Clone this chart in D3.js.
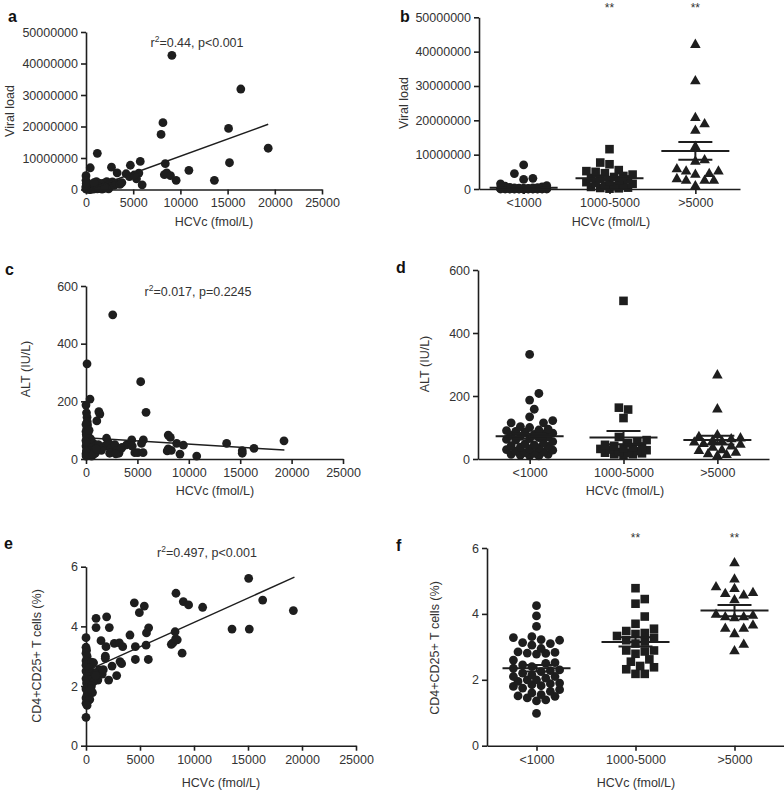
<!DOCTYPE html>
<html><head><meta charset="utf-8">
<script src="https://cdn.jsdelivr.net/npm/d3@7"></script>
<style>body{margin:0;background:#fff} svg{font-family:"Liberation Sans",Arial,sans-serif;display:block}</style>
</head><body><svg width="784" height="790"></svg>
<script>
// ---------------- DATA ----------------
const xTicksHCV = [0, 5000, 10000, 15000, 20000, 25000];
const groups = ["<1000", "1000-5000", ">5000"];
const viralTicks = [0, 10000000, 20000000, 30000000, 40000000, 50000000];
const altTicks = [0, 200, 400, 600];
const tregTicks = [0, 2, 4, 6];

// Panel a: [HCVc, viral load]
const aPoints = [
  [9100,42.6e6],[16400,31.9e6],[8150,21.2e6],[7950,17.5e6],[15100,19.4e6],[19300,13.1e6],[15200,8.5e6],
  [13600,2.9e6],[10900,6.1e6],[9550,2.9e6],[8400,8.2e6],[8300,4.7e6],[8550,5.3e6],[8950,4.4e6],
  [5750,8.9e6],[5950,1.5e6],[5600,5.2e6],[5350,3.4e6],[4700,7.7e6],[4250,5.0e6],[4600,4.1e6],[5100,4.6e6],
  [3300,5.3e6],[2700,7.1e6],[3450,1.8e6],[1200,11.5e6],[450,6.9e6],[0,4.4e6],[0,2.9e6],[50,1.3e6],
  [100,0.3e6],[200,0.1e6],[300,0.5e6],[400,0.2e6],[500,0.0e6],[600,0.8e6],[700,0.3e6],[800,0.1e6],
  [900,1.0e6],[1000,0.5e6],[1100,2.5e6],[1200,0.2e6],[1300,1.5e6],[1400,0.6e6],[1500,0.3e6],[1600,1.2e6],
  [1700,0.1e6],[1800,0.8e6],[1900,2.0e6],[2000,0.4e6],[2100,1.5e6],[2200,2.5e6],[2300,0.9e6],[2400,0.2e6],
  [2500,1.7e6],[2600,1.1e6],[2800,2.4e6],[3000,1.3e6],[3200,2.0e6],[3600,1.6e6],[3800,2.2e6],[150,0.9e6],
  [250,1.8e6],[350,0.0e6],[650,1.4e6],[750,0.5e6],[50,0.1e6],[0,0.2e6],[0,0.6e6],[0,1.0e6],[30,2.0e6],
  [1500,1.9e6],[1700,0.7e6],[1250,1.0e6],[850,2.2e6],[1950,0.8e6]
];
const aFit = { x: [280, 19300], y: [0, 20.7e6] };
const aStat = ["r", "2", "=0.44, p<0.001"];

// Panel b: viral load by HCVc group
const bLow = [7.0e6,4.5e6,3.1e6,2.8e6,1.5e6,1.0e6,0.8e6,0.6e6,0.5e6,0.4e6,0.35e6,0.3e6,0.25e6,0.2e6,0.2e6,0.15e6,
  0.1e6,0.1e6,0.08e6,0.05e6,0.05e6,0.03e6,0.02e6,0.02e6,0.01e6,0.01e6,0,0,0,0,0,0,0,0,0,0,0,0,0,0];
const bMid = [11.6e6,7.7e6,7.2e6,5.5e6,5.2e6,5.0e6,4.6e6,4.2e6,3.8e6,3.5e6,3.2e6,3.0e6,2.8e6,2.5e6,2.2e6,2.0e6,
  1.8e6,1.5e6,1.2e6,1.0e6,0.8e6,0.6e6,0.4e6,0.3e6,0.2e6,0.1e6];
const bHigh = [42.2e6,31.6e6,20.9e6,19.1e6,17.2e6,12.5e6,8.6e6,8.2e6,6.0e6,5.3e6,5.3e6,4.6e6,4.4e6,3.1e6,2.6e6,2.6e6,2.6e6,1.0e6];
const bMean = [0.4e6, 3.1e6, 11.1e6];
const bSem = [0.2e6, 0.5e6, 2.6e6];
const bSig = ["", "**", "**"];

// Panel c: [HCVc, ALT]
const cPoints = [
  [0,187],[50,160],[100,145],[120,130],[150,118],[80,105],[0,95],[200,90],[60,80],[150,72],[0,65],[250,60],
  [100,55],[300,50],[0,45],[180,40],[400,35],[50,30],[250,28],[120,22],[0,18],[350,15],[200,12],[500,25],
  [600,40],[700,55],[800,30],[900,20],[450,70],[550,10],[390,208],[100,330],[1250,164],[1350,156],[1050,132],
  [2600,500],[2000,72],[1800,45],[2200,55],[2400,35],[2600,25],[2800,50],[3000,30],[3200,20],[3500,40],
  [1500,30],[1200,50],[2300,20],[3950,49],[4450,66],[5580,66],[5400,54],[4750,22],[5050,22],[5550,22],
  [5320,268],[5840,162],[8000,83],[8200,75],[8820,54],[9470,48],[8000,35],[8300,30],[9140,17],[10770,10],
  [13680,54],[15200,29],[15200,20],[16340,37],[19260,63],[4500,45],[3400,35],[2900,18],[7900,28],
  [0,120],[30,85],[20,60],[40,25],[10,10],[300,100],[700,15],[1000,35]
];
const cFit = { x: [0, 19300], y: [74, 31] };
const cStat = ["r", "2", "=0.017, p=0.2245"];

// Panel d: ALT by HCVc group
const dLow = [332,208,187,158,134,122,115,115,103,100,95,92,90,88,85,82,80,78,75,72,70,68,65,62,60,55,50,48,45,42,
  40,38,35,32,30,28,25,22,20,18,15,15,12,10,10];
const dMid = [502,163,157,130,70,60,55,50,45,42,40,38,35,32,30,28,25,22,20,18,15,20,15,12];
const dHigh = [268,160,78,72,68,65,60,58,55,50,48,42,38,30,28,22,18,15,12];
const dMean = [72, 68, 60];
const dSem = [8, 21, 14];

// Panel e: [HCVc, CD4+CD25+ %]
const ePoints = [
  [15060,5.61],[8330,5.11],[16360,4.88],[19200,4.53],[9010,4.83],[9500,4.72],[10800,4.64],[4475,4.79],[5400,4.68],
  [4940,4.46],[13520,3.91],[15120,3.91],[930,4.27],[1910,4.32],[930,3.96],[2160,3.96],[4070,3.71],[5800,3.95],
  [5600,3.78],[1390,3.52],[2620,3.43],[3090,3.45],[3400,3.32],[1790,3.0],[1790,2.93],[1850,3.32],[2410,2.67],
  [3150,2.82],[3300,2.75],[2100,2.2],[2840,2.35],[4570,3.32],[4570,2.89],[5560,3.37],[5770,2.89],[7900,3.40],
  [8050,3.45],[8300,3.58],[8450,3.55],[8250,3.82],[8900,3.10],
  [0,3.62],[0,3.3],[50,3.2],[0,3.1],[100,3.0],[0,2.85],[150,2.8],[0,2.7],[500,2.8],[700,2.78],[0,2.5],[100,2.45],
  [200,2.35],[0,2.25],[300,2.2],[50,2.1],[400,2.05],[150,1.95],[0,1.9],[250,1.85],[600,1.78],[100,1.7],[0,1.6],
  [350,1.55],[200,1.5],[0,1.42],[100,1.35],[0,0.95],[1230,2.54],[770,2.45],[1000,2.3],[1500,2.4],[1100,2.2],
  [1600,2.55],[700,2.15],[500,2.0],[900,2.35],[300,2.6],[450,1.9]
];
const eFit = { x: [0, 19300], y: [2.5, 5.65] };
const eStat = ["r", "2", "=0.497, p<0.001"];

// Panel f: CD4+CD25+ % by HCVc group
const fLow = [4.25,3.94,3.62,3.31,3.28,3.22,3.2,3.13,3.1,3.05,2.95,2.85,2.83,2.81,2.8,2.78,2.6,2.52,2.5,2.45,2.4,
  2.35,2.3,2.28,2.25,2.2,2.15,2.1,2.1,2.05,2.0,2.0,1.95,1.9,1.88,1.85,1.82,1.8,1.75,1.7,1.65,1.6,1.55,1.51,
  1.5,1.45,1.39,1.36,0.98];
const fMid = [4.78,4.45,4.31,3.92,3.70,3.55,3.48,3.42,3.39,3.33,3.28,3.2,3.16,3.1,2.89,2.89,2.86,2.79,2.62,2.55,
  2.42,2.38,2.32,2.18,2.18];
const fHigh = [5.56,5.07,4.83,4.78,4.66,4.63,4.58,4.44,4.0,3.97,3.92,3.92,3.89,3.67,3.57,3.57,3.41,3.09,2.89];
const fMean = [2.35, 3.15, 4.10];
const fSem = [0.1, 0.14, 0.17];
const fSig = ["", "**", "**"];

// ---------------- DRAWING ----------------
const svg = d3.select("svg");
const INK = "#1e1e1e";
const TXT = "#333";
const FS = "12.5px";
const R = 4.4;

function styleAxis(g) {
  g.selectAll("path,line").attr("stroke", INK).attr("stroke-width", 1.6);
  g.selectAll("text").attr("fill", TXT).style("font-size", FS);
}

function yAxis(y, x0, ticks, fmt) {
  const g = svg.append("g").attr("transform", `translate(${x0},0)`)
    .call(d3.axisLeft(y).tickValues(ticks).tickFormat(fmt).tickSize(5).tickPadding(3).tickSizeOuter(0));
  styleAxis(g);
}
function xAxis(x, y0, ticks, fmt) {
  const ax = d3.axisBottom(x).tickSize(5).tickPadding(4).tickSizeOuter(0);
  if (ticks) ax.tickValues(ticks);
  if (fmt) ax.tickFormat(fmt);
  const g = svg.append("g").attr("transform", `translate(0,${y0})`).call(ax);
  styleAxis(g);
}
function letter(t, x, y) {
  svg.append("text").attr("x", x).attr("y", y).text(t)
    .style("font-size", "16px").style("font-weight", "bold").attr("fill", "#111");
}
function yTitle(t, x, y) {
  svg.append("text").attr("transform", `translate(${x},${y}) rotate(-90)`)
    .attr("text-anchor", "middle").attr("dominant-baseline", "central")
    .style("font-size", FS).attr("fill", TXT).text(t);
}
function xTitle(t, x, y) {
  svg.append("text").attr("x", x).attr("y", y).attr("text-anchor", "middle")
    .attr("dominant-baseline", "central").style("font-size", FS).attr("fill", TXT).text(t);
}
function stat(parts, x, y) {
  const t = svg.append("text").attr("x", x).attr("y", y).attr("text-anchor", "middle")
    .attr("dominant-baseline", "central").style("font-size", FS).attr("fill", TXT);
  t.append("tspan").text(parts[0]);
  t.append("tspan").attr("dy", -4).style("font-size", "8.5px").text(parts[1]);
  t.append("tspan").attr("dy", 4).text(parts[2]);
}

const fmtInt = d3.format("d");

function scatterPanel(o) {
  const x = d3.scaleLinear().domain([0, 25000]).range([o.x0, o.x1]);
  const y = d3.scaleLinear().domain(o.ydom).range([o.yb, o.yt]);
  svg.append("g").selectAll("circle").data(o.pts).join("circle")
    .attr("cx", d => x(d[0])).attr("cy", d => y(d[1])).attr("r", R).attr("fill", INK);
  svg.append("line").attr("x1", x(o.fit.x[0])).attr("y1", y(o.fit.y[0]))
    .attr("x2", x(o.fit.x[1])).attr("y2", y(o.fit.y[1])).attr("stroke", INK).attr("stroke-width", 1.5);
  yAxis(y, o.x0, o.yticks, fmtInt);
  xAxis(x, o.yb, xTicksHCV, fmtInt);
}

function swarm(values, y, cx, r, maxOff) {
  const pts = values.map(v => ({ v, y: y(v) })).sort((a, b) => b.y - a.y);
  const placed = [];
  const step = r * 1.05;
  const cands = [0];
  for (let k = 1; k * step <= maxOff; k++) cands.push(k * step, -k * step);
  pts.forEach(p => {
    let best = 0, bestD = -1;
    for (const o of cands) {
      let md = Infinity;
      for (const q of placed) { const d = Math.hypot(q.x - (cx + o), q.y - p.y); if (d < md) md = d; }
      if (md >= 2 * r * 0.98) { best = o; break; }
      if (md > bestD) { bestD = md; best = o; }
    }
    p.x = cx + best;
    placed.push(p);
  });
  return pts;
}

const triPath = "M0,-5.5L5.3,3.8L-5.3,3.8Z";

function groupPanel(o) {
  const x = d3.scalePoint().domain(groups).range([o.x0, o.x1]).padding(o.pad);
  const y = d3.scaleLinear().domain(o.ydom).range([o.yb, o.yt]);
  const sets = [o.low, o.mid, o.high];
  sets.forEach((vals, i) => {
    const pts = swarm(vals, y, x(groups[i]), R, 26);
    const g = svg.append("g");
    if (i === 0) {
      g.selectAll("circle").data(pts).join("circle").attr("cx", d => d.x).attr("cy", d => d.y)
        .attr("r", R).attr("fill", INK);
    } else if (i === 1) {
      g.selectAll("rect").data(pts).join("rect").attr("x", d => d.x - 4.3).attr("y", d => d.y - 4.3)
        .attr("width", 8.6).attr("height", 8.6).attr("fill", INK);
    } else {
      g.selectAll("path").data(pts).join("path").attr("d", triPath)
        .attr("transform", d => `translate(${d.x},${d.y})`).attr("fill", INK);
    }
    const cx = x(groups[i]);
    const m = o.mean[i], s = o.sem[i];
    const lg = svg.append("g").attr("stroke", INK).attr("stroke-width", 2);
    lg.append("line").attr("x1", cx - 34).attr("x2", cx + 34).attr("y1", y(m)).attr("y2", y(m));
    lg.append("line").attr("x1", cx - 17).attr("x2", cx + 17).attr("y1", y(m + s)).attr("y2", y(m + s));
    lg.append("line").attr("x1", cx - 17).attr("x2", cx + 17).attr("y1", y(m - s)).attr("y2", y(m - s));
    lg.append("line").attr("x1", cx).attr("x2", cx).attr("y1", y(m + s)).attr("y2", y(m - s));
    if (o.sig && o.sig[i]) {
      svg.append("text").attr("x", cx).attr("y", o.sigY).attr("text-anchor", "middle")
        .style("font-size", "12px").attr("fill", TXT).text(o.sig[i]);
    }
  });
  yAxis(y, o.x0, o.yticks, fmtInt);
  xAxis(x, o.yb);
}

// a
scatterPanel({ x0: 86, x1: 322, yt: 32, yb: 189.5, ydom: [0, 50000000], yticks: viralTicks, pts: aPoints, fit: aFit });
letter("a", 8, 22); yTitle("Viral load", 10, 111); xTitle("HCVc (fmol/L)", 214, 222); stat(aStat, 197, 43);

// b
groupPanel({ x0: 479, x1: 740, pad: 0.52, yt: 17.3, yb: 189, ydom: [0, 50000000], yticks: viralTicks,
  low: bLow, mid: bMid, high: bHigh, mean: bMean, sem: bSem, sig: bSig, sigY: 12 });
letter("b", 400, 22); yTitle("Viral load", 404, 103); xTitle("HCVc (fmol/L)", 611, 222);

// c
scatterPanel({ x0: 86, x1: 343, yt: 286, yb: 459, ydom: [0, 600], yticks: altTicks, pts: cPoints, fit: cFit });
letter("c", 5, 275); yTitle("ALT (IU/L)", 26, 369); xTitle("HCVc (fmol/L)", 215, 491); stat(cStat, 198, 292);

// d
groupPanel({ x0: 478, x1: 769, pad: 0.55, yt: 270, yb: 459, ydom: [0, 600], yticks: altTicks,
  low: dLow, mid: dMid, high: dHigh, mean: dMean, sem: dSem });
letter("d", 396, 273); yTitle("ALT (IU/L)", 424.5, 364); xTitle("HCVc (fmol/L)", 625, 491);

// e
scatterPanel({ x0: 86, x1: 356, yt: 566.7, yb: 745.7, ydom: [0, 6], yticks: tregTicks, pts: ePoints, fit: eFit });
letter("e", 4, 549); yTitle("CD4+CD25+ T cells (%)", 37, 656); xTitle("HCVc (fmol/L)", 221, 783); stat(eStat, 207, 553);

// f
groupPanel({ x0: 487, x1: 784, pad: 0.5, yt: 548, yb: 745.7, ydom: [0, 6], yticks: tregTicks,
  low: fLow, mid: fMid, high: fHigh, mean: fMean, sem: fSem, sig: fSig, sigY: 542 });
letter("f", 396, 551); yTitle("CD4+CD25+ T cells (%)", 435, 648); xTitle("HCVc (fmol/L)", 636, 783);
</script>
</body></html>
